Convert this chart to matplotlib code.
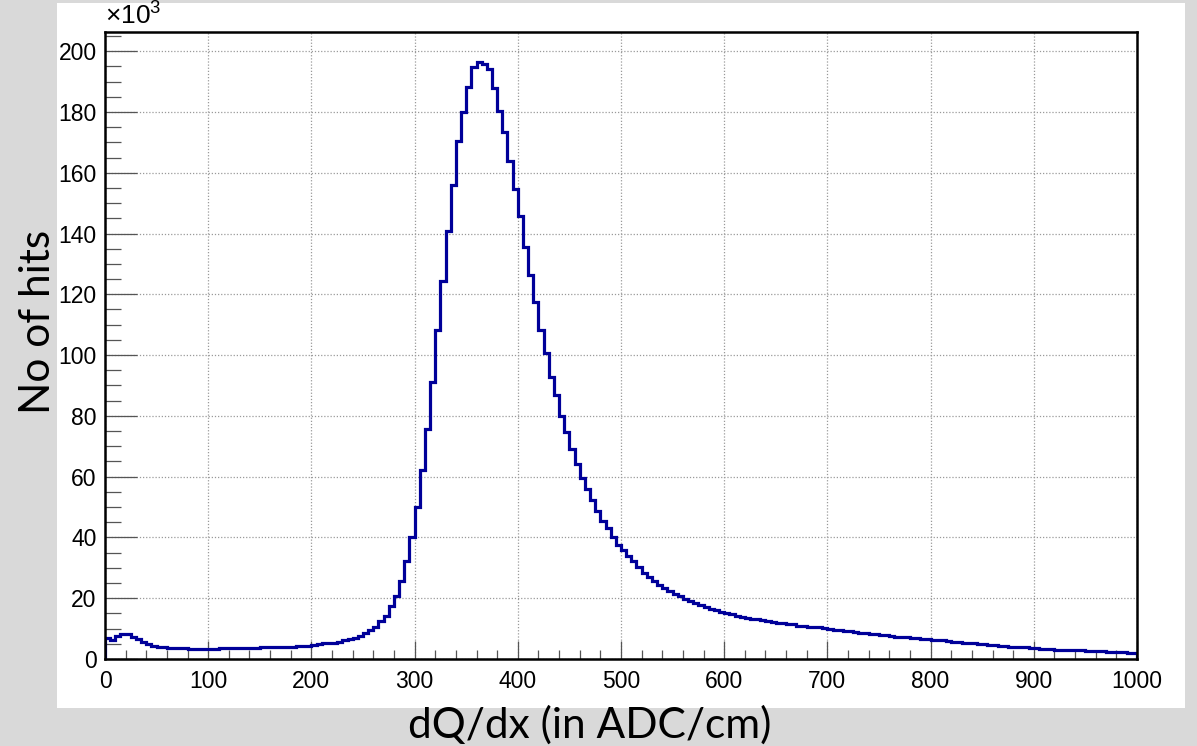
import numpy as np
import matplotlib
matplotlib.use("Agg")
import matplotlib.pyplot as plt
from matplotlib.ticker import MultipleLocator
from matplotlib.patches import Rectangle

# ---- data (counts in thousands, 200 bins of width 5 from 0 to 1000) ----
bin_edges = np.arange(0, 1005, 5)
counts_k = [
    # 0-200
    7.0, 6.3, 7.7, 8.3, 8.1, 7.2, 6.5, 5.7, 5.0, 4.4, 3.9, 3.8, 3.7,
    3.5, 3.5, 3.5, 3.4, 3.4, 3.4, 3.4,
    3.4, 3.4, 3.5, 3.5, 3.5, 3.5, 3.6,
    3.7, 3.7, 3.7, 3.8, 4.0,
    3.8, 3.9, 3.9, 4.0, 4.1, 4.2, 4.3, 4.4,
    # 200-300
    4.7, 4.9, 5.1, 5.2, 5.4, 5.7, 6.1, 6.5, 7.0, 7.6,
    8.6, 9.6, 10.5, 12.4, 14.3, 17.3, 20.6, 25.8, 32.4, 40.1,
    # 300-400
    50.0, 62.1, 75.8, 91.1, 108.1, 124.4, 140.8, 156.1, 170.4, 180.1,
    188.3, 194.8, 196.4, 195.7, 194.0, 187.9, 180.4, 173.4, 163.9, 154.8,
    # 400-500
    145.8, 135.6, 126.4, 117.5, 108.4, 100.8, 92.8, 87.0, 80.1, 74.7,
    69.2, 64.3, 59.5, 55.8, 52.4, 48.6, 45.4, 43.1, 40.3, 37.6,
    # 500-600
    35.7, 33.8, 32.1, 30.2, 28.4, 26.9, 25.8, 24.4, 23.4, 22.3,
    21.5, 20.7, 19.7, 19.0, 18.4, 17.7, 17.1, 16.5, 16.0, 15.5,
    # 600-700
    15.1, 14.7, 14.2, 13.8, 13.6, 13.3, 13.0, 12.7, 12.4, 12.2,
    12.0, 11.8, 11.6, 11.4, 11.0, 10.7, 10.6, 10.5, 10.4, 10.1,
    # 700-750
    9.8, 9.6, 9.5, 9.3, 9.1, 8.8, 8.7, 8.5, 8.3, 8.2,
    # 750-1000
    8.0, 7.8, 7.6, 7.4, 7.2, 7.1, 6.9, 6.8, 6.7, 6.6,
    6.4, 6.3, 6.1, 5.9, 5.7, 5.6, 5.4, 5.3, 5.1, 5.0,
    4.9, 4.7, 4.5, 4.3, 4.2, 4.0, 3.9, 3.8, 3.8, 3.7,
    3.5, 3.4, 3.3, 3.2, 3.1, 3.0, 3.0, 2.9, 2.8, 2.8,
    2.7, 2.6, 2.6, 2.5, 2.4, 2.3, 2.2, 2.2, 2.1, 2.1,
]
x_ticks = list(range(0, 1001, 100))
y_ticks = list(range(0, 201, 20))
x_label = "dQ/dx (in ADC/cm)"
y_label = "No of hits"

plt.rcParams['mathtext.fontset'] = 'custom'
plt.rcParams['mathtext.rm'] = 'Liberation Sans'
plt.rcParams['mathtext.it'] = 'Liberation Sans'

W, H = 1197, 746
fig = plt.figure(figsize=(W / 100, H / 100), dpi=100, facecolor='#d9d9d9')

# white canvas panel
fig.patches.append(Rectangle((57 / W, 1 - 708 / H), 1128 / W, 705 / H,
                             transform=fig.transFigure, facecolor='white',
                             edgecolor='none', zorder=-5))

ax = fig.add_axes([105 / W, 1 - 659 / H, 1032 / W, 627 / H])
ax.set_zorder(2)
ax.set_facecolor('white')
ax.stairs(counts_k, bin_edges, baseline=0, color='#000099', linewidth=2.3, zorder=3)

ax.set_xlim(0, 1000)
ax.set_ylim(0, 206.3)
ax.set_xticks(x_ticks)
ax.set_yticks(y_ticks)
ax.xaxis.set_minor_locator(MultipleLocator(20))
ax.yaxis.set_minor_locator(MultipleLocator(5))

ax.grid(True, which='major', color='#9a9a9a', linestyle=(0, (1, 1.5)), linewidth=0.9)
ax.set_axisbelow(True)

ax.tick_params(axis='both', which='both', direction='in', top=False, right=False,
               color='#555555', width=0.9, labelsize=16.5, labelcolor='black')
ax.tick_params(axis='y', which='major', length=23, pad=6)
ax.tick_params(axis='y', which='minor', length=11.5)
ax.tick_params(axis='x', which='major', length=13, pad=8)
ax.tick_params(axis='x', which='minor', length=6.5)
for lab in ax.get_xticklabels() + ax.get_yticklabels():
    lab.set_fontfamily('Liberation Sans')

for sp in ax.spines.values():
    sp.set_linewidth(1.8)
    sp.set_color('black')
    sp.set_zorder(4)

ax.text(0.0, 1.002, r'$\times10^{3}$', transform=ax.transAxes, ha='left', va='bottom',
        fontsize=19, color='black')

fig.text(590 / W, 1 - 725 / H, x_label, ha='center', va='center',
         fontsize=30.5, family='Lato', color='black', zorder=5)
fig.text(38 / W, 1 - 322 / H, y_label, ha='center', va='center', rotation=90,
         fontsize=30.5, family='Lato', color='black', zorder=5)

fig.savefig('out.png', dpi=100, facecolor=fig.get_facecolor())
